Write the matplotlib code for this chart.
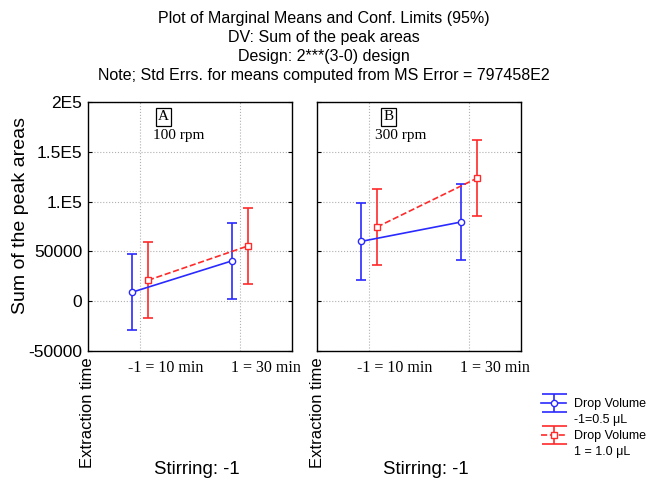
import numpy as np
import matplotlib.pyplot as plt
from matplotlib.lines import Line2D
from matplotlib.legend_handler import HandlerErrorbar

# marginal means
levels = ['-1 = 10 min', '1 = 30 min']
panels = ['A', 'B']
rpm = ['100 rpm', '300 rpm']
vol_low_A = [9000, 40500]
vol_high_A = [21000, 55500]
vol_low_B = [60000, 79500]
vol_high_B = [74500, 123500]
ci = 38300  # 95% half width, same for every mean
yticks = [-50000, 0, 50000, 100000, 150000, 200000]
ytick_labels = ['-50000', '0', '50000', '1.E5', '1.5E5', '2E5']
legend_labels = ['Drop Volume', '-1=0.5 \u03bcL', 'Drop Volume', '1 = 1.0 \u03bcL']

sans = 'Liberation Sans'
serif = 'Liberation Serif'
plt.rcParams['font.family'] = sans

blue = '#2a2aff'
red = '#ff2a2a'

fig = plt.figure(figsize=(6.47, 4.82), dpi=100)
fig.text(0.5, 1 - 47/482, 'Plot of Marginal Means and Conf. Limits (95%)\n'
         'DV: Sum of the peak areas\nDesign: 2***(3-0) design\n'
         'Note; Std Errs. for means computed from MS Error = 797458E2',
         ha='center', va='center', fontsize=11.5, linespacing=1.36)

lefts = [88/647, 317/647]
data = [(vol_low_A, vol_high_A), (vol_low_B, vol_high_B)]
x = [0, 1]
off = 0.08
for i, left in enumerate(lefts):
    ax = fig.add_axes([left, 1 - 351/482, 204/647, 249/482])
    low, high = data[i]
    ax.errorbar([v - off for v in x], low, yerr=ci, color=blue, lw=1.2,
                marker='o', ms=4.5, mfc='white', mec=blue, capsize=3.7,
                capthick=1.2, zorder=3)
    ax.errorbar([v + off for v in x], high, yerr=ci, color=red, lw=1.2,
                ls='--', marker='s', ms=5, mfc='white', mec=red,
                capsize=3.7, capthick=1.2, zorder=3)
    ax.set_xlim(-0.52, 1.52)
    ax.set_ylim(-50000, 200000)
    ax.set_xticks(x)
    ax.set_xticklabels([])
    # category labels sit right of their grid line
    for xv, lab in zip(x, levels):
        ax.text(xv + 0.255, -0.068, lab, transform=ax.get_xaxis_transform(),
                ha='center', va='center', fontfamily=serif, fontsize=11.5)
    ax.set_yticks(yticks)
    if i == 0:
        ax.set_yticklabels(ytick_labels, fontsize=12.5)
        ax.set_ylabel('Sum of the peak areas', fontsize=14)
        ax.yaxis.set_label_coords(-0.29, 0.546)
    else:
        ax.set_yticklabels([])
    ax.tick_params(direction='in', length=3, right=True, top=False, pad=4)
    ax.tick_params(axis='x', length=0)
    ax.grid(True, ls=':', color='#b0b0b0', lw=0.8)
    for s in ax.spines.values():
        s.set_linewidth(1.0)
    ax.text(0.37 if i == 0 else 0.35, 0.94, panels[i], transform=ax.transAxes,
            ha='center', va='center', fontfamily=serif, fontsize=11,
            bbox=dict(boxstyle='square,pad=0.15', fc='white', ec='black', lw=0.9))
    ax.text(0.32 if i == 0 else 0.284, 0.865, rpm[i], transform=ax.transAxes,
            ha='left', va='center', fontfamily=serif, fontsize=11)
    fig.text(left, 1 - 357/482, 'Extraction time', rotation=90,
             ha='center', va='top', fontsize=12)
    fig.text(left + 109/647, 1 - 470/482, 'Stirring: -1', ha='center',
             va='center', fontsize=13.4)

# legend proxies with wide caps, drawn nowhere
p1 = ax.errorbar([np.nan], [np.nan], yerr=1, color=blue, lw=1.2, marker='o',
                 ms=4.5, mfc='white', mec=blue, capsize=9, capthick=1.2)
p2 = ax.errorbar([np.nan], [np.nan], yerr=1, color=red, lw=1.2, ls='--',
                 marker='s', ms=5, mfc='white', mec=red, capsize=9,
                 capthick=1.2)
blank = Line2D([], [], alpha=0)
leg = fig.legend([p1, blank, p2, blank], legend_labels, loc='upper left',
                 bbox_to_anchor=(530/647, 1 - 387/482), frameon=False,
                 fontsize=9, handlelength=2.0, handletextpad=0.6,
                 labelspacing=0.32,
                 handler_map={type(p1): HandlerErrorbar(yerr_size=0.75)})

fig.savefig('out.png', dpi=100)
